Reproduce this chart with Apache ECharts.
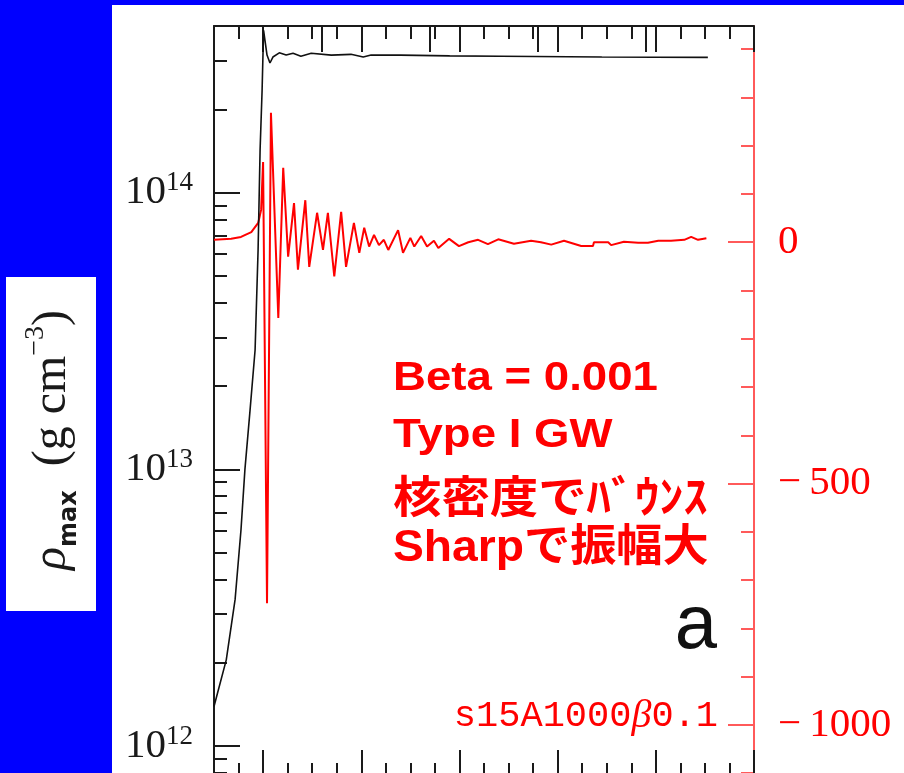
<!DOCTYPE html>
<html><head><meta charset="utf-8">
<script src="https://cdn.jsdelivr.net/npm/echarts@6/dist/echarts.min.js"></script>
<style>html,body{margin:0;padding:0;background:#0000ff;}#c{width:904px;height:773px;}</style>
</head><body><div id="c"></div>
<script>
// time after bounce (ms) and maximum density (g cm^-3)
const rhoTime = [-10, -7.5, -5.7, -4.5, -3.7, -2.65, -1.63, -1.02, -0.61, -0.2, 0.1, 0.8, 1.4, 2.0, 3.3, 4.7, 6.1, 7.7, 9.8, 13.9, 17.9, 20.4, 22, 28, 38, 48.5, 69, 90.6];
const rhoValues = [1.39e12, 2.05e12, 3.39e12, 6.05e12, 1.0e13, 1.64e13, 2.7e13, 6.2e13, 1.43e14, 2.35e14, 3.86e14, 3.14e14, 2.94e14, 3.09e14, 3.2e14, 3.14e14, 3.19e14, 3.11e14, 3.19e14, 3.14e14, 3.16e14, 3.09e14, 3.14e14, 3.14e14, 3.12e14, 3.11e14, 3.09e14, 3.08e14];
// gravitational wave amplitude (cm)
const gwTime = [-10, -6.5, -4.5, -2.4, -1.0, -0.4, 0, 0.8, 1.6, 3.1, 4.1, 5.1, 6.3, 7.1, 8.6, 9.4, 11.0, 12.2, 13.2, 14.5, 15.9, 16.9, 18.5, 19.6, 20.6, 21.6, 22.6, 23.6, 24.6, 25.5, 27.5, 28.5, 30.0, 30.8, 32.2, 33.4, 34.8, 35.7, 37.9, 39.9, 41.8, 43.8, 45.8, 47.9, 51.1, 54.6, 56.6, 58.7, 61.3, 64.8, 67.2, 67.4, 70.3, 70.9, 73.5, 76.4, 78.4, 80.5, 83.1, 85.8, 87.2, 88.6, 90.3];
const gwValues = [5, 7, 11, 21, 40, 67, 166, -748, 268, -157, 154, -30, 81, -57, 87, -51, 61, -16, 61, -71, 63, -51, 40, -22, 30, -9, 15, -6, 5, -16, 25, -22, 9, -9, 13, -9, 3, -12, 7, -8, 0, 5, -4, 6, -3, 3, 0, -5, 3, -8, -8, 0, 0, -6, 1, -1, -1, 3, 3, 5, 11, 5, 8];
// tick values
const timeMajorTicks = [0, 20, 40, 60, 80, 100];
const densityTicks = [1e12, 1e13, 1e14];
const densityMinorTicks = [8e11, 9e11, 2e12, 3e12, 4e12, 5e12, 6e12, 7e12, 8e12, 9e12, 2e13, 3e13, 4e13, 5e13, 6e13, 7e13, 8e13, 9e13, 2e14, 3e14];
const ampTicks = [-1000, -500, 0];
const ampMinorTicks = [-1100, -900, -800, -700, -600, -400, -300, -200, -100, 100, 200, 300, 400];

const BLK = '#1a1a1a';
const RED_AX = '#ff5a5a';
const blackLine = {color: BLK, width: 2};
const redLine = {color: RED_AX, width: 2};

function fmtDecade(v) {
  const e = Math.round(Math.log10(v));
  if (Math.abs(v / Math.pow(10, e) - 1) > 1e-6) return '';
  if (densityTicks.indexOf(Math.pow(10, e)) < 0) return '';
  return '{a|10}{b|' + e + '}';
}
function fmtAmp(v) { return v < 0 ? '\u2212\u2009' + (-v) : String(v); }

const gridBox = {left: 214, right: 150, top: 26, bottom: -3, containLabel: false, outerBoundsMode: 'none'};
const xBase = {type: 'value', min: -10, max: 100, axisLabel: {show: false}, splitLine: {show: false}};
const chart = echarts.init(document.getElementById('c'));
chart.setOption({
  backgroundColor: '#0000ff',
  animation: false,
  grid: [Object.assign({}, gridBox), Object.assign({}, gridBox)],
  xAxis: [
    Object.assign({}, xBase, {gridIndex: 0, position: 'bottom', axisLine: {show: true, onZero: false, lineStyle: blackLine},
      axisTick: {show: true, inside: true, length: 26, customValues: timeMajorTicks, lineStyle: blackLine}}),
    Object.assign({}, xBase, {gridIndex: 0, position: 'bottom', interval: 5, axisLine: {show: false, onZero: false},
      axisTick: {show: true, inside: true, length: 13, lineStyle: blackLine}}),
    Object.assign({}, xBase, {gridIndex: 0, position: 'top', axisLine: {show: true, onZero: false, lineStyle: blackLine},
      axisTick: {show: true, inside: true, length: 26, customValues: timeMajorTicks, lineStyle: blackLine}}),
    Object.assign({}, xBase, {gridIndex: 0, position: 'top', interval: 5, axisLine: {show: false, onZero: false},
      axisTick: {show: true, inside: true, length: 13, lineStyle: blackLine}}),
    Object.assign({}, xBase, {gridIndex: 1, position: 'top', interval: 20, min: 0, max: 100, axisLine: {show: false, onZero: false},
      axisTick: {show: true, inside: true, length: 26, lineStyle: blackLine}})
  ],
  yAxis: [
    {type: 'log', gridIndex: 0, logBase: 10, min: 7.8e11, max: 4e14, position: 'left',
      axisLine: {show: true, onZero: false, lineStyle: blackLine},
      axisTick: {show: true, inside: true, length: 26, lineStyle: blackLine},
      axisLabel: {show: true, margin: 21, formatter: fmtDecade,
        rich: {a: {fontFamily: 'Liberation Serif', fontSize: 41, color: BLK, lineHeight: 46},
               b: {fontFamily: 'Liberation Serif', fontSize: 27, color: BLK, lineHeight: 27, verticalAlign: 'top'}}},
      splitLine: {show: false}},
    {type: 'log', gridIndex: 0, logBase: 10, min: 7.8e11, max: 4e14, position: 'left',
      axisLine: {show: false, onZero: false},
      axisTick: {show: true, inside: true, length: 13, customValues: densityMinorTicks, lineStyle: blackLine},
      axisLabel: {show: false}, splitLine: {show: false}},
    {type: 'value', gridIndex: 0, min: -1106, max: 448, position: 'right',
      axisLine: {show: true, onZero: false, lineStyle: redLine},
      axisTick: {show: true, inside: true, length: 26, customValues: ampTicks, lineStyle: redLine},
      axisLabel: {show: true, customValues: ampTicks, formatter: fmtAmp, margin: 24, color: '#ff0000',
        fontFamily: 'Liberation Serif', fontSize: 41},
      splitLine: {show: false}},
    {type: 'value', gridIndex: 0, min: -1106, max: 448, position: 'right',
      axisLine: {show: false, onZero: false},
      axisTick: {show: true, inside: true, length: 13, customValues: ampMinorTicks, lineStyle: redLine},
      axisLabel: {show: false}, splitLine: {show: false}},
    {type: 'value', gridIndex: 1, min: 0, max: 1, show: false}
  ],
  series: [
    {type: 'line', name: 'GW', xAxisIndex: 0, yAxisIndex: 2, symbol: 'none', smooth: false,
      data: gwTime.map((t, i) => [t, gwValues[i]]), lineStyle: {color: '#ff0000', width: 2}},
    {type: 'line', name: 'rho', xAxisIndex: 0, yAxisIndex: 0, symbol: 'none', smooth: false,
      data: rhoTime.map((t, i) => [t, rhoValues[i]]), lineStyle: {color: '#111', width: 1.6}}
  ],
  graphic: [
    {type: 'rect', z: -10, silent: true, shape: {x: 112, y: 5, width: 792, height: 768}, style: {fill: '#ffffff'}},
    {type: 'rect', z: -10, silent: true, shape: {x: 6, y: 277, width: 90, height: 334}, style: {fill: '#ffffff'}},
    {type: 'text', x: 52, y: 440, rotation: Math.PI / 2, style: {
      text: '{r|\u03c1}{s|max}{p|  (g cm}{u|\u22123}{p|)}', align: 'center', verticalAlign: 'middle',
      rich: {
        r: {fontFamily: 'Liberation Serif', fontStyle: 'italic', fontSize: 48, fill: BLK, lineHeight: 60},
        s: {fontFamily: 'DejaVu Sans', fontWeight: 'bold', fontSize: 24, fill: BLK, lineHeight: 34, verticalAlign: 'bottom'},
        p: {fontFamily: 'Liberation Serif', fontSize: 48, fill: BLK, lineHeight: 60},
        u: {fontFamily: 'Liberation Serif', fontSize: 28, fill: BLK, lineHeight: 36, verticalAlign: 'top'}
      }}},
    {type: 'text', x: 393, y: 379, scaleX: 1.14, style: {text: 'Beta = 0.001', fontFamily: 'Liberation Sans', fontWeight: 'bold', fontSize: 40, fill: '#ff0000', align: 'left', verticalAlign: 'middle'}},
    {type: 'text', x: 393, y: 436, scaleX: 1.14, style: {text: 'Type I GW', fontFamily: 'Liberation Sans', fontWeight: 'bold', fontSize: 40, fill: '#ff0000', align: 'left', verticalAlign: 'middle'}},
    {type: 'text', x: 393, y: 496, scaleX: 1.1, style: {text: '核密度でﾊﾞｳﾝｽ', fontFamily: '"Noto Sans CJK JP"', fontWeight: 'bold', fontSize: 44, fill: '#ff0000', align: 'left', verticalAlign: 'middle'}},
    {type: 'text', x: 393, y: 549, scaleX: 1.05, style: {text: 'Sharpで振幅大', fontFamily: '"Liberation Sans", "Noto Sans CJK JP"', fontWeight: 'bold', fontSize: 44, fill: '#ff0000', align: 'left', verticalAlign: 'middle'}},
    {type: 'text', x: 717, y: 627, style: {text: 'a', fontFamily: 'Liberation Sans', fontSize: 76, fill: '#111', align: 'right', verticalAlign: 'middle'}},
    {type: 'text', x: 718, y: 716, style: {text: '{m|s15A1000}{b|\u03b2}{m|0.1}', align: 'right', verticalAlign: 'middle',
      rich: {m: {fontFamily: 'Liberation Mono', fontSize: 37, fill: '#ff0000'},
             b: {fontFamily: 'Liberation Serif', fontStyle: 'italic', fontSize: 40, fill: '#ff0000'}}}}
  ]
});
</script></body></html>
